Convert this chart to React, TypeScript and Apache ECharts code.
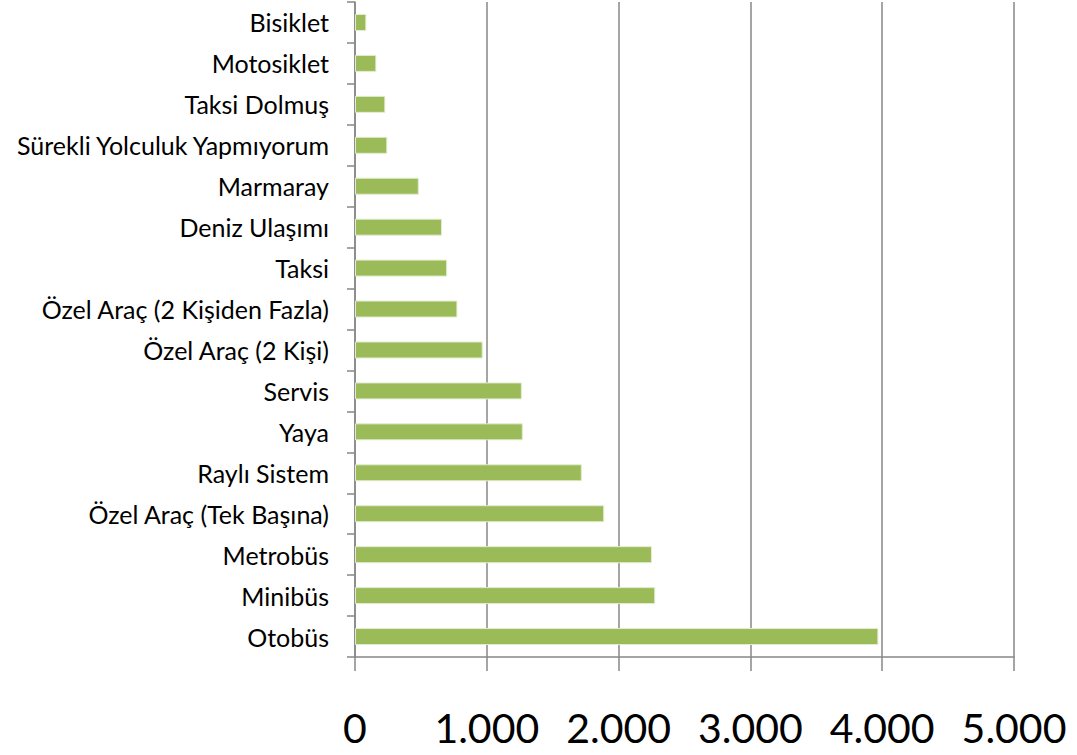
import React, { useEffect, useRef } from "react";
import * as echarts from "echarts";

const categories = [
  "Bisiklet",
  "Motosiklet",
  "Taksi Dolmuş",
  "Sürekli Yolculuk Yapmıyorum",
  "Marmaray",
  "Deniz Ulaşımı",
  "Taksi",
  "Özel Araç (2 Kişiden Fazla)",
  "Özel Araç (2 Kişi)",
  "Servis",
  "Yaya",
  "Raylı Sistem",
  "Özel Araç (Tek Başına)",
  "Metrobüs",
  "Minibüs",
  "Otobüs",
];

const values = [86, 162, 230, 245, 484, 660, 699, 777, 969, 1266, 1273, 1721, 1891, 2253, 2278, 3971];

const xTicks = [0, 1000, 2000, 3000, 4000, 5000];

export default function App() {
  const ref = useRef<HTMLDivElement>(null);
  useEffect(() => {
    if (!ref.current) return;
    const chart = echarts.init(ref.current, undefined, { renderer: "svg" });
    const gray = "#878787";
    chart.setOption({
      animation: false,
      grid: { left: 355, right: 63, top: 2, bottom: 98, containLabel: false },
      xAxis: {
        type: "value",
        min: xTicks[0],
        max: xTicks[xTicks.length - 1],
        interval: 1000,
        axisLine: { show: true, lineStyle: { color: gray, width: 1.5 } },
        axisTick: { show: true, length: 14, lineStyle: { color: gray, width: 1.5 } },
        splitLine: { show: true, lineStyle: { color: gray, width: 1.5 } },
        axisLabel: {
          margin: 50,
          fontFamily: "Lato",
          fontSize: 41,
          lineHeight: 41,
          color: "#000",
          formatter: (v: number) => v.toLocaleString("de-DE"),
        },
      },
      yAxis: {
        type: "category",
        data: categories,
        inverse: true,
        axisLine: { show: true, lineStyle: { color: gray, width: 1.5 } },
        axisTick: { show: true, length: 8, alignWithLabel: false, lineStyle: { color: gray, width: 1.5 } },
        axisLabel: {
          margin: 26,
          fontFamily: "Lato",
          fontSize: 25,
          color: "#000",
        },
      },
      series: [
        {
          type: "bar",
          data: values,
          barWidth: 17,
          itemStyle: { color: "#9BBB59", borderColor: "#e3ecd0", borderWidth: 1 },
        },
      ],
    });
    return () => chart.dispose();
  }, []);
  return <div ref={ref} style={{ position: "absolute", left: 0, top: 0, width: 1077, height: 755 }} />;
}
